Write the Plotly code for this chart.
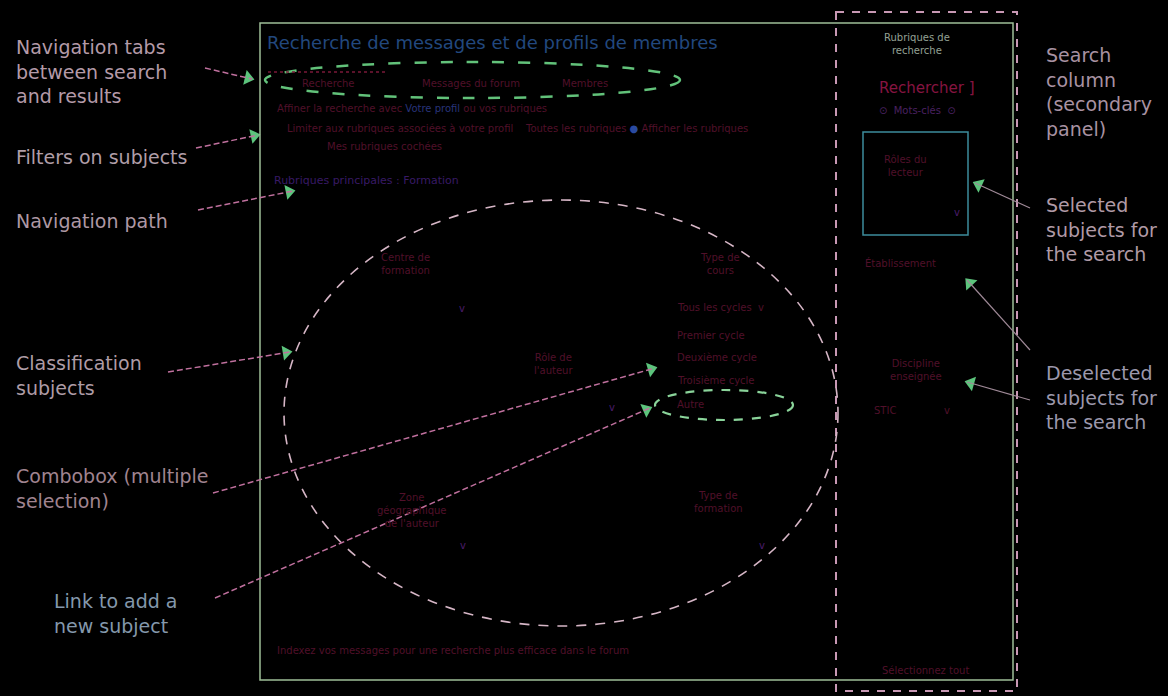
import math
import plotly.graph_objects as go

# ---- text content of the annotated wireframe ----
left_notes = ["Navigation tabs<br>between search<br>and results", "Filters on subjects",
              "Navigation path", "Classification<br>subjects",
              "Combobox (multiple<br>selection)", "Link to add a<br>new subject"]
right_notes = ["Search<br>column<br>(secondary<br>panel)", "Selected<br>subjects for<br>the search",
               "Deselected<br>subjects for<br>the search"]
page_title = "Recherche de messages et de profils de membres"
tab_labels = ["Recherche", "Messages du forum", "Membres"]
filter_lines = ["Affiner la recherche avec <span style='color:#28347a'>Votre profil</span> ou vos rubriques",
                "Limiter aux rubriques associées à votre profil    Toutes les rubriques <span style='color:#2a4aa0'>●</span> Afficher les rubriques",
                "Mes rubriques cochées"]
nav_path = "Rubriques principales : Formation"
subject_labels = ["Centre de<br>formation", "Rôle de<br>l'auteur", "Type de<br>cours",
                  "Zone<br>géographique<br>de l'auteur", "Type de<br>formation"]
cycle_options = ["Tous les cycles  v", "Premier cycle", "Deuxième cycle", "Troisième cycle", "Autre"]
footer_note = "Indexez vos messages pour une recherche plus efficace dans le forum"
side_labels = ["Rubriques de<br>recherche", "Rechercher ]", "⊙  Mots-clés  ⊙", "Rôles du<br>lecteur",
               "Établissement", "Discipline<br>enseignée", "STIC               v", "Sélectionnez tout"]

# positions (pixel space of the picture)
left_pos = [(14, 34), (14, 144), (14, 208), (14, 350), (14, 463), (52, 588)]
right_pos = [(1044, 42), (1044, 192), (1044, 360)]
arrows = [((205, 68), (252, 79)), ((196, 148), (258, 135)), ((198, 210), (293, 191)),
          ((168, 372), (290, 352)), ((213, 493), (655, 368)), ((215, 598), (650, 408))]
side_arrows = [((1030, 208), (975, 183)), ((1030, 350), (967, 280)), ((1030, 400), (967, 382))]
subject_pos = [(405, 264), (553, 364), (720, 264), (412, 510), (718, 502)]
cycle_y = [307, 335, 357, 380, 404]
side_pos = [(917, 44), (927, 88), (917, 110), (905, 166), (900, 263), (916, 370), (912, 410), (925, 670)]

W, H = 1168, 696
fig = go.Figure()

shapes = []
# main page frame
shapes.append(dict(type="rect", x0=260, y0=23, x1=1013, y1=680, line=dict(color="#9fbf98", width=1.5)))
# secondary column (dashed)
shapes.append(dict(type="rect", x0=836, y0=12, x1=1017, y1=691,
                   line=dict(color="#c898b4", width=2, dash="8px,8px")))
# tabs ellipse
shapes.append(dict(type="circle", x0=265, y0=62, x1=680, y1=98,
                   line=dict(color="#62c27a", width=2.5, dash="12px,14px")))
# classification ellipse
shapes.append(dict(type="circle", x0=284, y0=200, x1=838, y1=626,
                   line=dict(color="#d6b6c6", width=1.6, dash="10px,9px")))
# "Autre" ellipse
shapes.append(dict(type="circle", x0=655, y0=390, x1=793, y1=420,
                   line=dict(color="#8ad49a", width=2.2, dash="9px,9px")))
# selected subjects box
shapes.append(dict(type="rect", x0=863, y0=132, x1=968, y1=235, line=dict(color="#3d8c9c", width=1.5)))
# tab underline
shapes.append(dict(type="line", x0=268, y0=72, x1=385, y1=72, line=dict(color="#7a1838", width=1.5, dash="dot")))

for (tx, ty), (hx, hy) in arrows:
    shapes.append(dict(type="line", x0=tx, y0=ty, x1=hx, y1=hy,
                       line=dict(color="#c0709e", width=1.5, dash="6px,3px")))
for (tx, ty), (hx, hy) in side_arrows:
    shapes.append(dict(type="line", x0=tx, y0=ty, x1=hx, y1=hy,
                       line=dict(color="#a08a98", width=1.2)))

# arrow heads as rotated triangle markers
hx_list, hy_list, ang_list = [], [], []
for (tx, ty), (hx, hy) in arrows + side_arrows:
    dx, dy = hx - tx, hy - ty
    n = math.hypot(dx, dy)
    hx_list.append(hx - dx / n * 4)
    hy_list.append(hy - dy / n * 4)
    ang_list.append(math.degrees(math.atan2(dx, -dy)))
fig.add_trace(go.Scatter(x=hx_list, y=hy_list, mode="markers", hoverinfo="skip",
                         marker=dict(symbol="triangle-up", size=13, angle=ang_list,
                                     color="#5cc47c", line=dict(width=0))))

annotations = []
note_font = dict(family="DejaVu Sans", size=19, color="#b8a4ae")
note_colors = ["#b49aa8", "#b09ea8", "#ae98a4", "#ae9ca6", "#a08490", "#8498ac"]
for txt, (x, y), c in zip(left_notes, left_pos, note_colors):
    annotations.append(dict(x=x, y=y, text=txt, showarrow=False, xanchor="left", yanchor="top",
                            align="left", font=dict(note_font, color=c)))
for txt, (x, y), c in zip(right_notes, right_pos, ["#a892a2", "#b09aa6", "#9c98ac"]):
    annotations.append(dict(x=x, y=y, text=txt, showarrow=False, xanchor="left", yanchor="top",
                            align="left", font=dict(note_font, color=c)))

small = dict(family="DejaVu Sans", size=10, color="#50102a")
annotations.append(dict(x=265, y=42, text=page_title, showarrow=False, xanchor="left",
                        font=dict(family="DejaVu Sans", size=18, color="#22487e")))
for txt, x in zip(tab_labels, [300, 420, 560]):
    annotations.append(dict(x=x, y=83, text=txt, showarrow=False, xanchor="left", font=small))
for txt, (x, y) in zip(filter_lines, [(275, 108), (285, 128), (325, 146)]):
    annotations.append(dict(x=x, y=y, text=txt, showarrow=False, xanchor="left", font=small))
annotations.append(dict(x=272, y=180, text=nav_path, showarrow=False, xanchor="left",
                        font=dict(small, size=11, color="#381a66")))
for txt, (x, y) in zip(subject_labels, subject_pos):
    annotations.append(dict(x=x, y=y, text=txt, showarrow=False, font=small))
for x, y in [(462, 308), (612, 407), (463, 545), (762, 545)]:
    annotations.append(dict(x=x, y=y, text="v", showarrow=False, font=dict(small, color="#4a1c6a")))
for txt, y in zip(cycle_options, cycle_y):
    annotations.append(dict(x=675, y=y, text=txt, showarrow=False, xanchor="left", font=small))
annotations.append(dict(x=275, y=650, text=footer_note, showarrow=False, xanchor="left", font=small))

side_styles = [dict(small, size=10, color="#94a094"), dict(small, size=15, color="#861440"),
               dict(small, color="#4a2060"), small, small, small, small, small]
for txt, (x, y), f in zip(side_labels, side_pos, side_styles):
    annotations.append(dict(x=x, y=y, text=txt, showarrow=False, font=f))
annotations.append(dict(x=957, y=212, text="v", showarrow=False, font=dict(small, color="#4a1c6a")))

fig.update_layout(
    width=W, height=H, margin=dict(l=0, r=0, t=0, b=0),
    paper_bgcolor="black", plot_bgcolor="black",
    xaxis=dict(range=[0, W], visible=False, fixedrange=True),
    yaxis=dict(range=[H, 0], visible=False, fixedrange=True),
    shapes=shapes, annotations=annotations, showlegend=False,
)

fig.write_html("out.html", config={"displayModeBar": False},
               post_script="document.body.style.margin='0';document.body.style.background='black';")
